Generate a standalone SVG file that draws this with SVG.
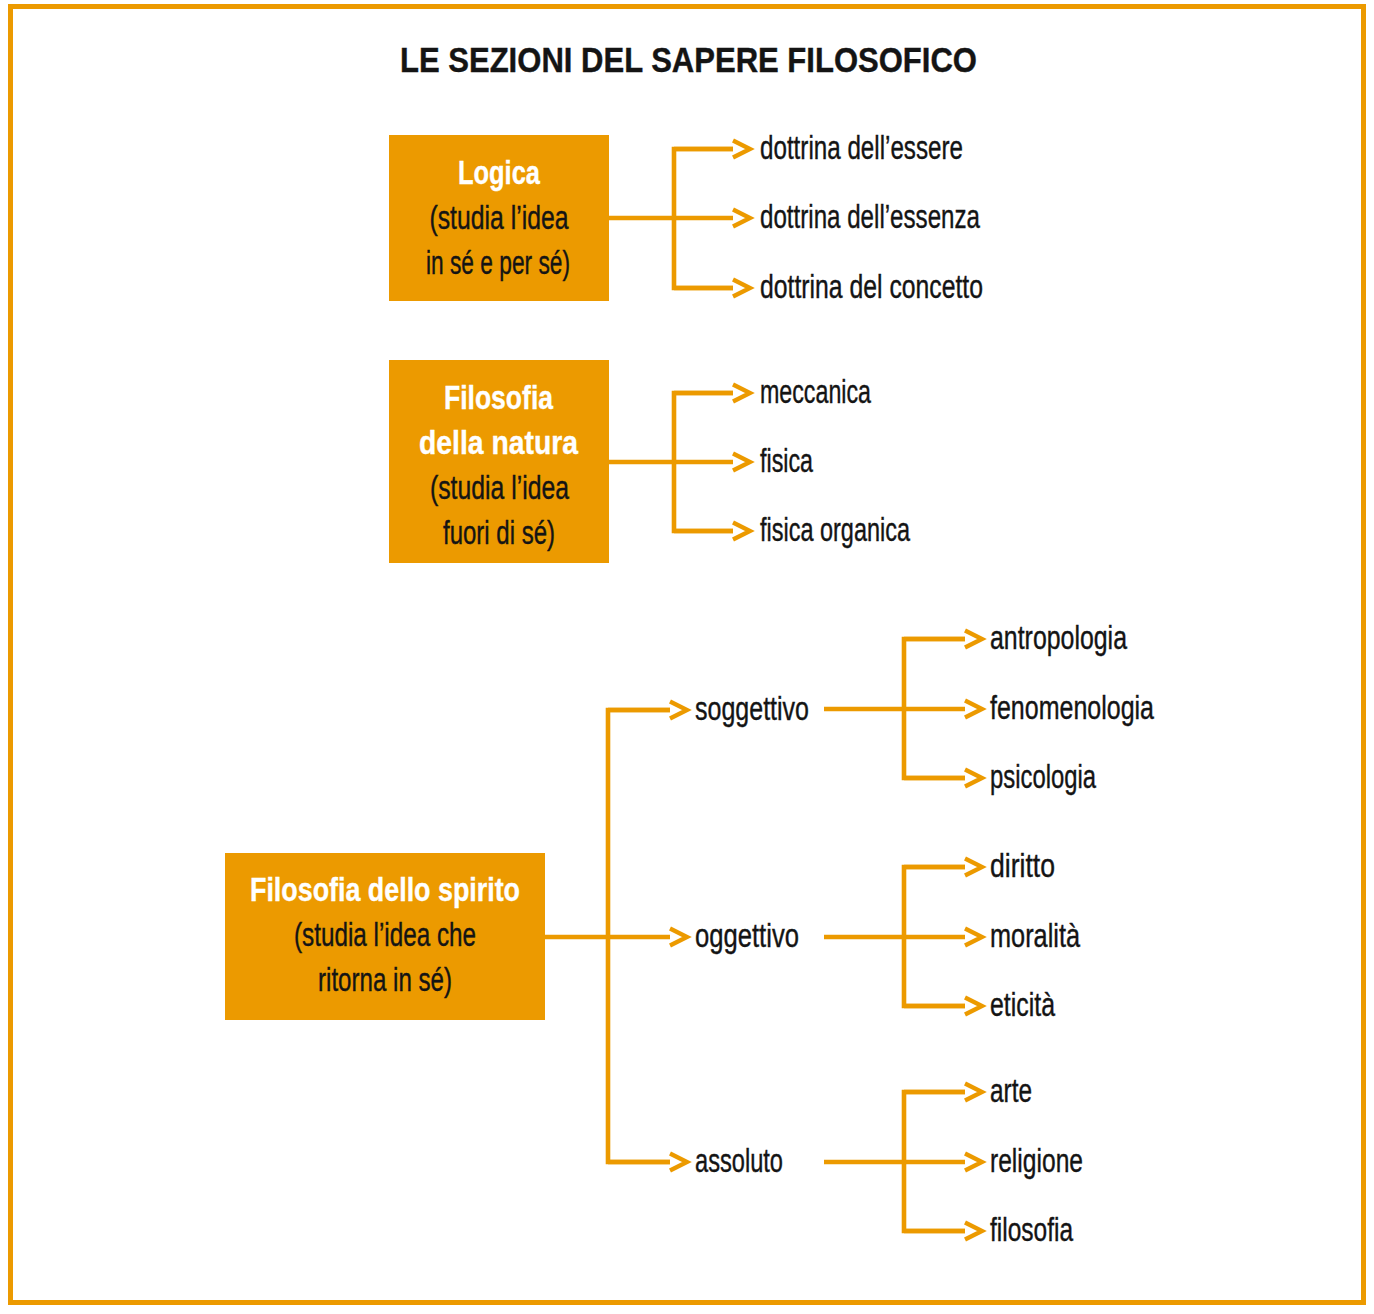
<svg xmlns="http://www.w3.org/2000/svg" width="1374" height="1314" viewBox="0 0 1374 1314">
<style>
.frame{fill:none;stroke:#EC9A00;stroke-width:5}
.box{fill:#EC9A00}
.ln{fill:none;stroke:#EC9A00;stroke-width:4.6;stroke-linejoin:miter;stroke-linecap:butt}
.t{font-family:"Liberation Sans",Arial,sans-serif;font-size:33px;fill:#141414;stroke:#141414;stroke-width:0.4}
.bt{font-family:"Liberation Sans",Arial,sans-serif;font-size:33px;fill:#141414;stroke:#141414;stroke-width:0.4;text-anchor:middle}
.bh{font-family:"Liberation Sans",Arial,sans-serif;font-size:34px;font-weight:bold;fill:#ffffff;stroke:#ffffff;stroke-width:0.4;text-anchor:middle}
.title{font-family:"Liberation Sans",Arial,sans-serif;font-size:35px;font-weight:bold;fill:#141414;stroke:#141414;stroke-width:0.4;text-anchor:middle}
</style>
<defs>
<marker id="chev" markerUnits="userSpaceOnUse" markerWidth="24" markerHeight="24" viewBox="-2 -12 24 24" refX="0" refY="0" orient="auto">
<path d="M0,-8.5 L17,0 L0,8.5" fill="none" stroke="#EC9A00" stroke-width="4.3" stroke-linejoin="miter"/>
</marker>
</defs>
<rect class="frame" x="10.5" y="6.5" width="1353" height="1296"/>
<text class="title" x="688.5" y="72" textLength="577" lengthAdjust="spacingAndGlyphs">LE SEZIONI DEL SAPERE FILOSOFICO</text>

<g id="connectors">
<path class="ln" d="M609,218 H733" marker-end="url(#chev)"/>
<path class="ln" d="M733,149 H674 V288 H733"/>
<path class="ln" d="M674,149 H733" marker-end="url(#chev)"/>
<path class="ln" d="M674,288 H733" marker-end="url(#chev)"/>

<path class="ln" d="M609,462 H733" marker-end="url(#chev)"/>
<path class="ln" d="M733,393 H674 V531 H733"/>
<path class="ln" d="M674,393 H733" marker-end="url(#chev)"/>
<path class="ln" d="M674,531 H733" marker-end="url(#chev)"/>

<path class="ln" d="M545,937 H670" marker-end="url(#chev)"/>
<path class="ln" d="M670,710 H608 V1162 H670"/>
<path class="ln" d="M608,710 H670" marker-end="url(#chev)"/>
<path class="ln" d="M608,1162 H670" marker-end="url(#chev)"/>

<path class="ln" d="M824,709 H965" marker-end="url(#chev)"/>
<path class="ln" d="M965,639 H904 V778 H965"/>
<path class="ln" d="M904,639 H965" marker-end="url(#chev)"/>
<path class="ln" d="M904,778 H965" marker-end="url(#chev)"/>

<path class="ln" d="M824,937 H965" marker-end="url(#chev)"/>
<path class="ln" d="M965,867 H904 V1006 H965"/>
<path class="ln" d="M904,867 H965" marker-end="url(#chev)"/>
<path class="ln" d="M904,1006 H965" marker-end="url(#chev)"/>

<path class="ln" d="M824,1162 H965" marker-end="url(#chev)"/>
<path class="ln" d="M965,1092 H904 V1231 H965"/>
<path class="ln" d="M904,1092 H965" marker-end="url(#chev)"/>
<path class="ln" d="M904,1231 H965" marker-end="url(#chev)"/>
</g>

<g id="logica">
<rect class="box" x="389" y="135" width="220" height="166"/>
<text class="bh" x="499" y="184" textLength="82" lengthAdjust="spacingAndGlyphs">Logica</text>
<text class="bt" x="499" y="229" textLength="139" lengthAdjust="spacingAndGlyphs">(studia l’idea</text>
<text class="bt" x="498" y="274" textLength="144" lengthAdjust="spacingAndGlyphs">in sé e per sé)</text>
</g>

<g id="natura">
<rect class="box" x="389" y="360" width="220" height="203"/>
<text class="bh" x="498.5" y="409" textLength="109" lengthAdjust="spacingAndGlyphs">Filosofia</text>
<text class="bh" x="498.5" y="454" textLength="159" lengthAdjust="spacingAndGlyphs">della natura</text>
<text class="bt" x="499.5" y="499" textLength="139" lengthAdjust="spacingAndGlyphs">(studia l’idea</text>
<text class="bt" x="499" y="544" textLength="112" lengthAdjust="spacingAndGlyphs">fuori di sé)</text>
</g>

<g id="spirito">
<rect class="box" x="225" y="853" width="320" height="167"/>
<text class="bh" x="385" y="901" textLength="270" lengthAdjust="spacingAndGlyphs">Filosofia dello spirito</text>
<text class="bt" x="385" y="946" textLength="182" lengthAdjust="spacingAndGlyphs">(studia l’idea che</text>
<text class="bt" x="385" y="991" textLength="134" lengthAdjust="spacingAndGlyphs">ritorna in sé)</text>
</g>

<g id="logica-items">
<text class="t" x="760" y="159" textLength="203" lengthAdjust="spacingAndGlyphs">dottrina dell’essere</text>
<text class="t" x="760" y="228" textLength="220" lengthAdjust="spacingAndGlyphs">dottrina dell’essenza</text>
<text class="t" x="760" y="298" textLength="223" lengthAdjust="spacingAndGlyphs">dottrina del concetto</text>
</g>

<g id="natura-items">
<text class="t" x="760" y="403" textLength="111" lengthAdjust="spacingAndGlyphs">meccanica</text>
<text class="t" x="760" y="472" textLength="53" lengthAdjust="spacingAndGlyphs">fisica</text>
<text class="t" x="760" y="541" textLength="150" lengthAdjust="spacingAndGlyphs">fisica organica</text>
</g>

<g id="soggettivo">
<text class="t" x="695" y="720" textLength="114" lengthAdjust="spacingAndGlyphs">soggettivo</text>
</g>
<g id="oggettivo">
<text class="t" x="695" y="947" textLength="104" lengthAdjust="spacingAndGlyphs">oggettivo</text>
</g>
<g id="assoluto">
<text class="t" x="695" y="1172" textLength="88" lengthAdjust="spacingAndGlyphs">assoluto</text>
</g>

<g id="soggettivo-items">
<text class="t" x="990" y="649" textLength="137" lengthAdjust="spacingAndGlyphs">antropologia</text>
<text class="t" x="990" y="719" textLength="164" lengthAdjust="spacingAndGlyphs">fenomenologia</text>
<text class="t" x="990" y="788" textLength="106" lengthAdjust="spacingAndGlyphs">psicologia</text>
</g>

<g id="oggettivo-items">
<text class="t" x="990" y="877" textLength="65" lengthAdjust="spacingAndGlyphs">diritto</text>
<text class="t" x="990" y="947" textLength="90" lengthAdjust="spacingAndGlyphs">moralità</text>
<text class="t" x="990" y="1016" textLength="65" lengthAdjust="spacingAndGlyphs">eticità</text>
</g>

<g id="assoluto-items">
<text class="t" x="990" y="1102" textLength="42" lengthAdjust="spacingAndGlyphs">arte</text>
<text class="t" x="990" y="1172" textLength="93" lengthAdjust="spacingAndGlyphs">religione</text>
<text class="t" x="990" y="1241" textLength="83" lengthAdjust="spacingAndGlyphs">filosofia</text>
</g>
</svg>
